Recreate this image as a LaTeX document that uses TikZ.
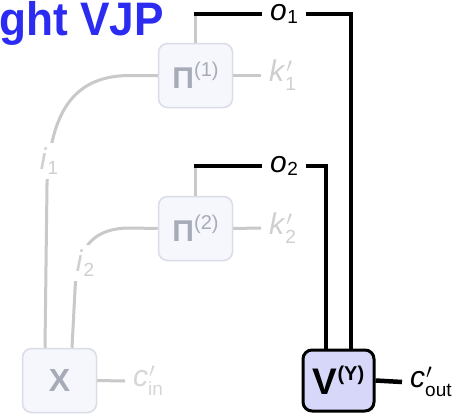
\documentclass[tikz,border=0pt]{standalone}
\usepackage{fontspec}
\setmainfont{Liberation Sans}
\usetikzlibrary{calc}
\definecolor{lgray}{HTML}{C9C9C9}
\definecolor{tgray}{HTML}{CFCFCF}
\definecolor{pgray}{HTML}{A7ABB7}
\definecolor{bfill}{HTML}{F5F7FD}
\definecolor{bdraw}{HTML}{DADDE6}
\definecolor{vfill}{HTML}{D7D7FA}
\definecolor{tblue}{HTML}{2B2BF2}
\newcommand\SubLab[3]{\textit{#1}\kern0.5pt\raisebox{#3}{\fontsize{19}{19}\selectfont #2}}
\newcommand\PrLab[2]{\textit{#1}\makebox[0pt][l]{\kern1pt$'$}\raisebox{-9pt}{\fontsize{19}{19}\selectfont #2}}
\newcommand\SupLab[3]{{#1}\raisebox{#3}{\fontsize{20}{20}\selectfont #2}}
\tikzset{
  gbox/.style={draw=bdraw, fill=bfill, line width=1.5pt, rounded corners=9pt,
    minimum width=74pt, minimum height=64pt, inner sep=0pt, text=pgray},
  vbox/.style={draw=black, fill=vfill, line width=3pt, rounded corners=9pt,
    minimum width=71pt, minimum height=61pt, inner sep=0pt, text=black},
  gline/.style={draw=lgray, line width=3pt},
  bline/.style={draw=black, line width=4.5pt},
  lab/.style={font=\fontsize{30}{30}\selectfont, inner ysep=0pt, inner xsep=8pt},
  glab/.style={lab, text=tgray},
  wlab/.style={font=\fontsize{30}{30}\selectfont, text=tgray, fill=white, inner sep=4pt},
}
\begin{document}
\begin{tikzpicture}[x=1pt,y=-1pt]
\path[use as bounding box] (0,0) rectangle (466,415);
\clip (0,0) rectangle (466,415);
\fill[white] (0,0) rectangle (466,415);
% title
\node[anchor=base east, inner sep=0pt, text=tblue, font=\fontsize{47}{47}\selectfont\bfseries] (title) at (164,35) {\scalebox{0.94}[1]{ght VJP}};
% boxes
\node[gbox] (p1) at (195.5,75.5) {\SupLab{\fontsize{30}{30}\selectfont\bfseries Π}{(1)}{12pt}};
\node[gbox] (p2) at (195.5,228.5) {\SupLab{\fontsize{30}{30}\selectfont\bfseries Π}{(2)}{12pt}};
\node[gbox, font=\fontsize{32}{32}\selectfont\bfseries] (xb) at (59.5,380.5) {X};
\node[vbox] (vb) at (338.5,380.5) {\SupLab{\fontsize{37}{37}\selectfont\bfseries V}{\bfseries(Y)}{14pt}};
% output labels
\node[lab, anchor=west] (o1) at (262,14) {\SubLab{o}{1}{-0.12em}};
\node[lab, anchor=west] (o2) at (262,166) {\SubLab{o}{2}{-0.12em}};
\coordinate (o1L) at (195.5,14);
\coordinate (o1R) at (351,14);
\coordinate (o2L) at (195.5,166);
\coordinate (o2R) at (326,166);
% gray stubs
\draw[gline] (p1.north) -- ($(o1L)+(0,-2)$);
\draw[gline] (p2.north) -- ($(o2L)+(0,-2)$);
% black outputs
\draw[bline] ($(o1L)+(-1.5,0)$) -- (o1.west);
\draw[bline] (o1.east) -- (o1R) -- (o1R |- vb.north);
\draw[bline] ($(o2L)+(-1.5,0)$) -- (o2.west);
\draw[bline] (o2.east) -- (o2R) -- (o2R |- vb.north);
% k labels
\node[glab, anchor=west] (k1) at (261,75.5) {\PrLab{k}{1}};
\node[glab, anchor=west] (k2) at (261,228) {\PrLab{k}{2}};
\draw[gline] (p1.east) -- (k1.west);
\draw[gline] (p2.east) -- (k2.west);
% c labels
\node[glab, anchor=west, text=tgray!85] (cin) at (125,381) {\PrLab{c}{in}};
\node[lab, anchor=west] (cout) at (402,382) {\PrLab{c}{out}};
\draw[gline] (xb.east) -- (cin.west);
\draw[bline] (vb.east) -- (cout.west);
% i curves
\coordinate (i1a) at (130,75.5);
\coordinate (i2a) at (130,228);
\coordinate (i1b) at ($(xb.north)+(-14.5,0)$);
\coordinate (i2b) at ($(xb.north)+(12.5,0)$);
\draw[gline] (p1.west) -- (i1a) .. controls (75,75.5) and (50,110) .. (47,185) -- (i1b);
\draw[gline] (p2.west) -- (i2a) .. controls (95,228) and (77,245) .. (75,290) -- (i2b);
\node[wlab] (i1) at (49,161) {\SubLab{i}{1}{-0.18em}};
\node[wlab] (i2) at (85,263) {\SubLab{i}{2}{-0.18em}};
\end{tikzpicture}
\end{document}
